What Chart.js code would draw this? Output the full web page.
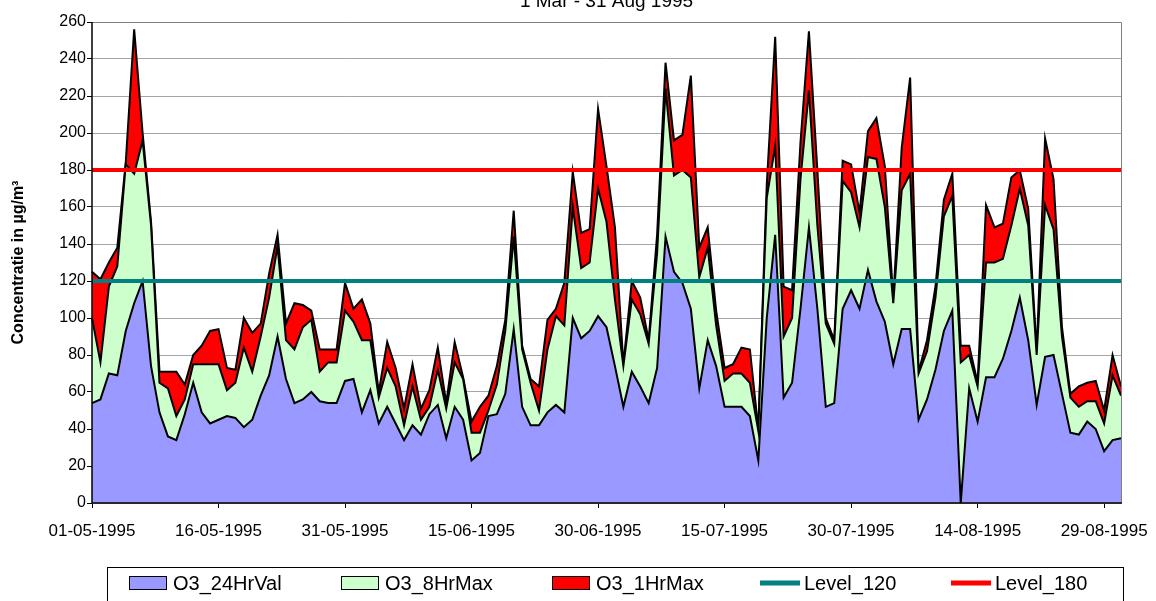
<!DOCTYPE html>
<html>
  <head>
    <title>O3 1995</title>
    <script src="https://cdn.jsdelivr.net/npm/chart.js"></script>
    <style>
      body { margin: 0; background: #fff; }
    </style>
  </head>
  <body>
    <canvas id="ozoneChart" width="1156" height="601"></canvas>
    <script>
      // daily values 01-05-1995 .. 31-08-1995
      const o3_24HrVal = [
        54, 56, 70, 69, 93, 108, 120, 74, 49, 36,
        34, 48, 65, 49, 43, 45, 47, 46, 41, 45,
        58, 69, 90, 67, 54, 56, 60, 55, 54, 54,
        66, 67, 49, 61, 43, 52, 43, 34, 42, 37,
        48, 53, 35, 52, 45, 23, 27, 47, 48, 59,
        94, 52, 42, 42, 49, 53, 49, 100, 89, 93,
        101, 95, 74, 52, 71, 63, 54, 73, 144, 125,
        119, 105, 62, 88, 74, 52, 52, 52, 47, 23,
        100, 145, 57, 65, 105, 149, 105, 52, 54, 105,
        115, 105, 126, 109, 98, 75, 94, 94, 45, 56,
        72, 93, 104, 0, 62, 44, 68, 68, 78, 93,
        111, 88, 53, 79, 80, 59, 38, 37, 44, 40,
        28, 34, 35
      ];
      const o3_8HrMax = [
        100, 76, 117, 128, 183, 178, 196, 150, 65, 62,
        47, 56, 75, 75, 75, 75, 61, 65, 84, 71,
        90, 111, 139, 88, 83, 95, 99, 71, 76, 76,
        104, 98, 88, 88, 57, 73, 63, 42, 63, 45,
        52, 72, 51, 76, 67, 38, 38, 50, 64, 93,
        144, 83, 65, 50, 83, 101, 96, 160, 127, 130,
        170, 152, 110, 74, 110, 102, 86, 135, 224, 177,
        180, 176, 122, 138, 96, 66, 70, 70, 65, 39,
        165, 193, 90, 100, 175, 223, 150, 97, 86, 174,
        168, 149, 187, 186, 160, 108, 169, 178, 70, 82,
        111, 155, 166, 76, 80, 63, 130, 130, 132, 150,
        170, 150, 80, 161, 148, 90, 57, 52, 55, 55,
        43, 69, 58
      ];
      const o3_1HrMax = [
        125, 121, 130, 138, 184, 256, 200, 152, 71, 71,
        71, 64, 80, 85, 93, 94, 73, 72, 100, 92,
        97, 124, 145, 97, 108, 107, 104, 83, 83, 83,
        119, 105, 110, 97, 60, 87, 73, 51, 75, 51,
        61, 84, 54, 87, 68, 44, 52, 58, 74, 99,
        158, 85, 67, 63, 99, 105, 119, 179, 146, 148,
        213, 182, 149, 75, 120, 111, 88, 145, 238, 196,
        199, 231, 138, 149, 104, 73, 75, 84, 83, 40,
        172, 252, 117, 115, 195, 255, 180, 100, 88, 185,
        183, 157, 201, 208, 182, 110, 192, 230, 71, 88,
        117, 164, 178, 85, 85, 65, 161, 149, 151, 176,
        180, 159, 82, 197, 175, 95, 59, 63, 65, 66,
        50, 80, 63
      ];
      const level120 = 120;
      const level180 = 180;
      const tickLabels = [
        "01-05-1995", "16-05-1995", "31-05-1995", "15-06-1995", "30-06-1995",
        "15-07-1995", "30-07-1995", "14-08-1995", "29-08-1995"
      ];

      // one category per day
      const days = o3_24HrVal.map((_, i) => {
        const d = new Date(1995, 4, 1 + i);
        const dd = d.getDate().toString().padStart(2, "0");
        const mm = (d.getMonth() + 1).toString().padStart(2, "0");
        return `${dd}-${mm}-${d.getFullYear()}`;
      });

      const FONT = '"Liberation Sans", Arial, sans-serif';

      // title sits half above the canvas edge, as in the original
      const cutTitle = {
        id: "cutTitle",
        afterDraw(chart) {
          const { ctx, chartArea } = chart;
          ctx.save();
          ctx.fillStyle = "#000";
          ctx.font = `19px ${FONT}`;
          ctx.textAlign = "center";
          ctx.textBaseline = "alphabetic";
          ctx.fillText("1 Mar - 31 Aug 1995", (chartArea.left + chartArea.right) / 2, 7);
          ctx.restore();
        },
      };

      // plot frame: black axes, grey top/right
      const plotFrame = {
        id: "plotFrame",
        afterDatasetsDraw(chart) {
          const { ctx, chartArea: a } = chart;
          ctx.save();
          ctx.lineWidth = 1;
          ctx.strokeStyle = "#808080";
          ctx.beginPath();
          ctx.moveTo(a.left, a.top + 0.5);
          ctx.lineTo(a.right + 0.5, a.top + 0.5);
          ctx.lineTo(a.right + 0.5, a.bottom);
          ctx.stroke();
          ctx.strokeStyle = "#000";
          ctx.lineWidth = 1.5;
          ctx.beginPath();
          ctx.moveTo(a.left, a.top);
          ctx.lineTo(a.left, a.bottom);
          ctx.lineTo(a.right + 1, a.bottom);
          ctx.stroke();
          ctx.restore();
        },
      };

      // boxed legend along the bottom
      const legendX = [129, 341, 552, 760, 951];
      const boxLegend = {
        id: "boxLegend",
        afterDraw(chart) {
          const ctx = chart.ctx;
          const y = 583;
          ctx.save();
          ctx.strokeStyle = "#000";
          ctx.lineWidth = 1;
          ctx.strokeRect(107.5, 567.5, 1016, 60);
          ctx.font = `20px ${FONT}`;
          ctx.textBaseline = "middle";
          chart.data.datasets.forEach((ds, i) => {
            const x = legendX[i];
            if (ds.fill) {
              ctx.fillStyle = ds.backgroundColor;
              ctx.fillRect(x, y - 7, 38, 14);
              ctx.strokeStyle = "#000";
              ctx.lineWidth = 1;
              ctx.strokeRect(x + 0.5, y - 6.5, 37, 13);
            } else {
              ctx.strokeStyle = ds.borderColor;
              ctx.lineWidth = 5;
              ctx.beginPath();
              ctx.moveTo(x, y);
              ctx.lineTo(x + 40, y);
              ctx.stroke();
            }
            ctx.fillStyle = "#000";
            ctx.fillText(ds.label, x + 44, y + 1);
          });
          ctx.restore();
        },
      };

      const area = (label, data, color, order) => ({
        label,
        data,
        backgroundColor: color,
        borderColor: "#000",
        borderWidth: 2,
        fill: "origin",
        order,
      });
      const level = (label, value, color, order) => ({
        label,
        data: [
          { x: days[0], y: value },
          { x: days[days.length - 1], y: value },
        ],
        borderColor: color,
        borderWidth: 4,
        fill: false,
        order,
      });

      const ctx = document.getElementById("ozoneChart").getContext("2d");
      new Chart(ctx, {
        type: "line",
        data: {
          labels: days,
          datasets: [
            area("O3_24HrVal", o3_24HrVal, "#9999FF", 3),
            area("O3_8HrMax", o3_8HrMax, "#CCFFCC", 4),
            area("O3_1HrMax", o3_1HrMax, "#FF0000", 5),
            level("Level_120", level120, "#008080", 2),
            level("Level_180", level180, "#FF0000", 1),
          ],
        },
        options: {
          responsive: false,
          animation: false,
          events: [],
          layout: {
            padding: { top: 22, right: 35, bottom: 0, left: 0 },
          },
          elements: {
            point: { radius: 0 },
            line: { tension: 0 },
          },
          scales: {
            x: {
              offset: false,
              border: { display: false },
              grid: {
                drawOnChartArea: false,
                drawTicks: true,
                tickLength: 5,
                tickColor: "#000",
              },
              ticks: {
                autoSkip: false,
                maxRotation: 0,
                minRotation: 0,
                padding: 13,
                color: "#000",
                font: { family: FONT, size: 17 },
                callback: (value, index) =>
                  tickLabels.includes(days[index]) ? days[index] : null,
              },
              afterFit: (scale) => {
                scale.height = 98;
                scale.paddingLeft = 0;
                scale.paddingRight = 0;
              },
            },
            y: {
              min: 0,
              max: 260,
              border: { display: false },
              grid: {
                color: "#a6a6a6",
                tickColor: "#000",
                tickLength: 5,
              },
              ticks: {
                stepSize: 20,
                padding: 1,
                color: "#000",
                font: { family: FONT, size: 16 },
              },
              title: {
                display: true,
                text: "Concentratie in µg/m³",
                color: "#000",
                font: { family: FONT, size: 16, weight: "bold" },
                padding: { top: 9, bottom: 0 },
              },
              afterFit: (scale) => {
                scale.width = 92;
              },
            },
          },
          plugins: {
            legend: { display: false },
            tooltip: { enabled: false },
          },
        },
        plugins: [plotFrame, cutTitle, boxLegend],
      });
    </script>
  </body>
</html>
